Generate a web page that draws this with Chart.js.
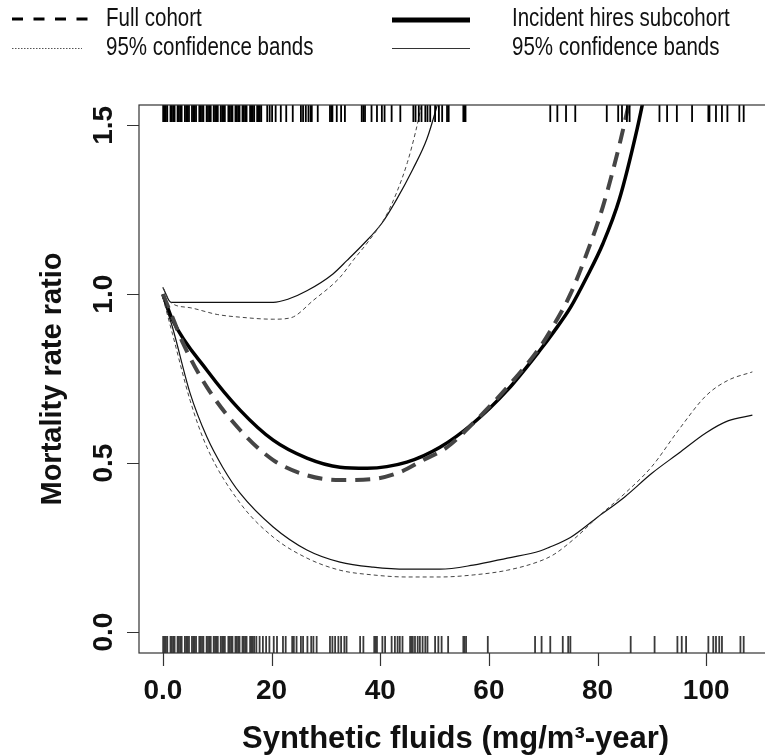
<!DOCTYPE html>
<html>
<head>
<meta charset="utf-8">
<script src="https://cdn.jsdelivr.net/npm/chart.js@4.4.1/dist/chart.umd.min.js"></script>
<style>
  html, body { margin: 0; padding: 0; background: #fff; overflow: hidden; }
  canvas { display: block; }
</style>
</head>
<body>
<canvas id="splineChart" width="800" height="756"></canvas>
<script>
// spline estimates
const fullX = [0, 1.8, 3.7, 8.1, 14.2, 20.3, 26.5, 32.6, 38.7, 43.6, 47.9, 52.3, 57.1, 63.4, 69.4, 72, 75, 78, 81, 84, 86, 88];
const fullY = [1.0, 0.93, 0.855, 0.725, 0.598, 0.509, 0.464, 0.450, 0.453, 0.473, 0.509, 0.547, 0.618, 0.725, 0.843, 0.91, 1.0, 1.12, 1.26, 1.44, 1.58, 1.72];

const subX = [0, 1.8, 8.1, 14.2, 20.3, 26.5, 32.6, 37.6, 44.9, 51.0, 57.1, 63.4, 69.4, 72, 75, 78, 81, 84, 87.3, 89];
const subY = [1.0, 0.923, 0.775, 0.657, 0.568, 0.515, 0.488, 0.485, 0.503, 0.547, 0.618, 0.716, 0.834, 0.89, 0.96, 1.05, 1.15, 1.28, 1.49, 1.62];

const fullHiX = [0, 1.5, 5, 10, 14.2, 20.3, 23.5, 27.7, 32.6, 35, 38, 41, 43, 45, 46.5, 48];
const fullHiY = [1.02, 0.975, 0.96, 0.94, 0.932, 0.926, 0.93, 0.982, 1.05, 1.10, 1.16, 1.23, 1.30, 1.39, 1.48, 1.59];

const subHiX = [0, 1.5, 10, 20.3, 23, 26.5, 31.3, 33.9, 37, 40.3, 43, 46, 48.6, 50.5, 51.5];
const subHiY = [1.02, 0.976, 0.976, 0.976, 0.985, 1.01, 1.06, 1.10, 1.15, 1.21, 1.28, 1.37, 1.46, 1.56, 1.62];

const fullLoX = [0, 1.8, 5.0, 8.1, 14.2, 20.3, 26.5, 32.6, 38.7, 44.9, 51.0, 57.1, 63.4, 69.4, 72, 76, 80, 85, 90, 95, 100, 104, 108.5];
const fullLoY = [0.99, 0.88, 0.686, 0.547, 0.382, 0.281, 0.219, 0.183, 0.169, 0.163, 0.163, 0.169, 0.183, 0.21, 0.23, 0.28, 0.34, 0.41, 0.49, 0.60, 0.70, 0.745, 0.77];

const subLoX = [0, 1.8, 5.0, 8.1, 11.0, 14.2, 20.3, 26.5, 32.6, 38.7, 44.9, 51.0, 57.1, 63.4, 69.4, 71, 75, 80, 85, 90, 95, 100, 104, 108.5];
const subLoY = [0.99, 0.90, 0.707, 0.577, 0.488, 0.411, 0.311, 0.243, 0.207, 0.192, 0.186, 0.186, 0.198, 0.219, 0.240, 0.25, 0.28, 0.34, 0.40, 0.47, 0.53, 0.59, 0.625, 0.642];

// rug: exposures of subcohort (top) and full cohort (bottom)
const rugTop = [
  0.05, 0.3, 0.55, 0.8, 1.4, 1.65, 1.9, 2.15, 2.7, 2.95, 3.2, 3.45, 4.05, 4.3, 4.55, 4.8,
  5.35, 5.6, 5.85, 6.1, 6.7, 6.95, 7.2, 7.45, 8.05, 8.3, 8.55, 8.8, 9.35, 9.6, 9.85, 10.1,
  10.65, 10.9, 11.15, 11.4, 12.05, 12.3, 12.55, 12.8, 13.35, 13.6, 13.85, 14.1,
  14.65, 14.9, 15.15, 15.4, 16.05, 16.3, 16.55, 16.8, 17.35, 17.6, 17.85, 18.1,
  19.2, 19.65, 20.1, 20.75, 21.7, 22.7, 23.9, 25.4, 25.8, 26.3, 26.8, 27.2, 27.4, 28.5,
  30.75, 31.0, 31.2, 32.0, 32.8, 33.5, 36.6, 36.9, 37.2, 38.4, 39.4, 40.3, 40.8, 42.1, 43.7,
  46.1, 46.5, 47.1, 47.6, 48.3, 48.7, 49.2, 50.1, 50.8, 51.4, 52.3, 52.6, 55.3, 55.5, 55.7,
  71.3, 72.6, 74.2, 75.9, 81.7, 83.8, 84.5, 85.4, 85.9, 91.4, 92.8, 94.6, 97.4,
  100.4, 100.6, 101.8, 102.9, 103.9, 106.1, 106.9
];
const rugBottom = [
  0.05, 0.3, 0.55, 0.8, 1.4, 1.65, 1.9, 2.15, 2.7, 2.95, 3.2, 3.45, 4.05, 4.3, 4.55, 4.8,
  5.35, 5.6, 5.85, 6.1, 6.7, 6.95, 7.2, 7.45, 8.05, 8.3, 8.55, 8.8, 9.35, 9.6, 9.85, 10.1,
  10.65, 10.9, 11.15, 11.4, 12.05, 12.3, 12.55, 12.8, 13.35, 13.6, 13.85, 14.1,
  14.65, 14.9, 15.15, 15.4, 16.05, 16.3, 16.55, 16.8,
  17.2, 17.8, 18.4, 19.0, 19.6, 20.4, 21.0, 22.1, 22.6, 23.8, 24.1, 24.6, 25.4, 25.8, 26.6,
  27.3, 27.7, 28.3, 30.75, 31.2, 31.7, 32.3, 32.8, 33.4, 33.8, 36.3, 36.9, 38.9, 39.2, 39.4,
  40.4, 40.9, 42.1, 42.7, 43.2, 43.6, 44.1, 45.5, 45.75, 46.0, 46.4, 46.9, 47.3, 47.8, 48.3,
  48.7, 50.1, 50.7, 51.3, 52.5, 55.3, 55.5, 55.8, 59.8, 68.5, 69.7, 71.3, 73.6, 74.6, 75.0,
  86.1, 90.5, 94.7, 95.5, 96.3, 100.4, 101.3, 101.8, 102.4, 102.9, 106.3, 106.9
];

const xTicks = [0, 20, 40, 60, 80, 100];
const xTickLabels = ['0.0', '20', '40', '60', '80', '100'];
const yTicks = [0, 0.5, 1.0, 1.5];
const yTickLabels = ['0.0', '0.5', '1.0', '1.5'];

const xTitle = 'Synthetic fluids (mg/m\u00B3-year)';
const yTitle = 'Mortality rate ratio';
const legendItems = ['Full cohort', '95% confidence bands', 'Incident hires subcohort', '95% confidence bands'];

const pts = (xs, ys) => xs.map((x, i) => ({ x: x, y: ys[i] }));

const FULL_DASH = [15, 9];
const BAND_DASH = [4, 3];

// narrow text: Liberation Sans squeezed horizontally
function narrowText(ctx, text, x, y) {
  ctx.save();
  ctx.translate(x, y);
  ctx.scale(0.82, 1);
  ctx.fillText(text, 0, 0);
  ctx.restore();
}

const rPlot = {
  id: 'rPlot',
  afterDatasetsDraw(chart) {
    const ctx = chart.ctx;
    const a = chart.chartArea;
    const xs = chart.scales.x, ys = chart.scales.y;
    ctx.save();

    // rug marks
    ctx.lineWidth = 1.8;
    ctx.strokeStyle = '#000';
    rugTop.forEach(v => {
      const px = xs.getPixelForValue(v);
      ctx.beginPath(); ctx.moveTo(px, a.top); ctx.lineTo(px, a.top + 17); ctx.stroke();
    });
    ctx.strokeStyle = '#3a3a3a';
    rugBottom.forEach(v => {
      const px = xs.getPixelForValue(v);
      ctx.beginPath(); ctx.moveTo(px, a.bottom); ctx.lineTo(px, a.bottom - 17); ctx.stroke();
    });

    // box
    ctx.strokeStyle = '#333';
    ctx.lineWidth = 1.2;
    ctx.strokeRect(a.left, a.top, a.right - a.left, a.bottom - a.top);

    // ticks
    ctx.beginPath();
    xTicks.forEach(v => {
      const px = Math.round(xs.getPixelForValue(v)) + 0.5;
      ctx.moveTo(px, a.bottom); ctx.lineTo(px, a.bottom + 13);
    });
    yTicks.forEach(v => {
      const py = Math.round(ys.getPixelForValue(v)) + 0.5;
      ctx.moveTo(a.left, py); ctx.lineTo(a.left - 12, py);
    });
    ctx.stroke();

    // tick labels
    ctx.fillStyle = '#111';
    ctx.font = 'bold 28px "Liberation Sans", Arial, sans-serif';
    ctx.textAlign = 'center';
    ctx.textBaseline = 'middle';
    xTicks.forEach((v, i) => {
      ctx.fillText(xTickLabels[i], xs.getPixelForValue(v), a.bottom + 38);
    });
    yTicks.forEach((v, i) => {
      ctx.save();
      ctx.translate(a.left - 35, ys.getPixelForValue(v));
      ctx.rotate(-Math.PI / 2);
      ctx.fillText(yTickLabels[i], 0, 0);
      ctx.restore();
    });

    // axis titles
    ctx.font = 'bold 31px "Liberation Sans", Arial, sans-serif';
    ctx.fillText(xTitle, (xs.getPixelForValue(0) + xs.getPixelForValue(100)) / 2 + 21, a.bottom + 86);
    ctx.font = 'bold 29px "Liberation Sans", Arial, sans-serif';
    ctx.save();
    ctx.translate(53, (a.top + a.bottom) / 2);
    ctx.rotate(-Math.PI / 2);
    ctx.fillText(yTitle, 0, 0);
    ctx.restore();

    // legend
    const row1 = 19, row2 = 48;
    ctx.strokeStyle = '#000';
    ctx.lineWidth = 3;
    ctx.setLineDash([11, 10.5]);
    ctx.beginPath(); ctx.moveTo(12, row1); ctx.lineTo(88, row1); ctx.stroke();
    ctx.lineWidth = 1;
    ctx.strokeStyle = '#555';
    ctx.setLineDash([1.5, 1.5]);
    ctx.beginPath(); ctx.moveTo(12, row2 + 0.5); ctx.lineTo(82, row2 + 0.5); ctx.stroke();
    ctx.setLineDash([]);
    ctx.strokeStyle = '#000';
    ctx.lineWidth = 5;
    ctx.beginPath(); ctx.moveTo(392, row1 + 1); ctx.lineTo(470, row1 + 1); ctx.stroke();
    ctx.lineWidth = 1;
    ctx.strokeStyle = '#333';
    ctx.beginPath(); ctx.moveTo(392, row2 + 0.5); ctx.lineTo(470, row2 + 0.5); ctx.stroke();

    ctx.fillStyle = '#111';
    ctx.font = '25px "Liberation Sans", Arial, sans-serif';
    ctx.textAlign = 'left';
    narrowText(ctx, legendItems[0], 106, row1);
    narrowText(ctx, legendItems[1], 106, row2);
    narrowText(ctx, legendItems[2], 512, row1);
    narrowText(ctx, legendItems[3], 512, row2);

    ctx.restore();
  }
};

new Chart(document.getElementById('splineChart').getContext('2d'), {
  type: 'scatter',
  data: {
    datasets: [
      { label: 'Full cohort lower', data: pts(fullLoX, fullLoY), borderColor: '#444', borderWidth: 1, borderDash: BAND_DASH },
      { label: 'Full cohort upper', data: pts(fullHiX, fullHiY), borderColor: '#444', borderWidth: 1, borderDash: BAND_DASH },
      { label: 'Subcohort lower', data: pts(subLoX, subLoY), borderColor: '#111', borderWidth: 1.2 },
      { label: 'Subcohort upper', data: pts(subHiX, subHiY), borderColor: '#111', borderWidth: 1.2 },
      { label: 'Full cohort', data: pts(fullX, fullY), borderColor: '#454545', borderWidth: 4, borderDash: FULL_DASH },
      { label: 'Incident hires subcohort', data: pts(subX, subY), borderColor: '#000', borderWidth: 3.5 }
    ]
  },
  options: {
    responsive: false,
    animation: false,
    showLine: true,
    layout: { padding: { left: 139, top: 105, right: 21, bottom: 103 } },
    elements: {
      point: { radius: 0, hoverRadius: 0 },
      line: { cubicInterpolationMode: 'monotone', fill: false }
    },
    plugins: { legend: { display: false }, tooltip: { enabled: false } },
    scales: {
      x: { type: 'linear', min: -4.4, max: 113.4, display: false },
      y: { type: 'linear', min: -0.062, max: 1.56, display: false }
    }
  },
  plugins: [rPlot]
});
</script>
</body>
</html>
